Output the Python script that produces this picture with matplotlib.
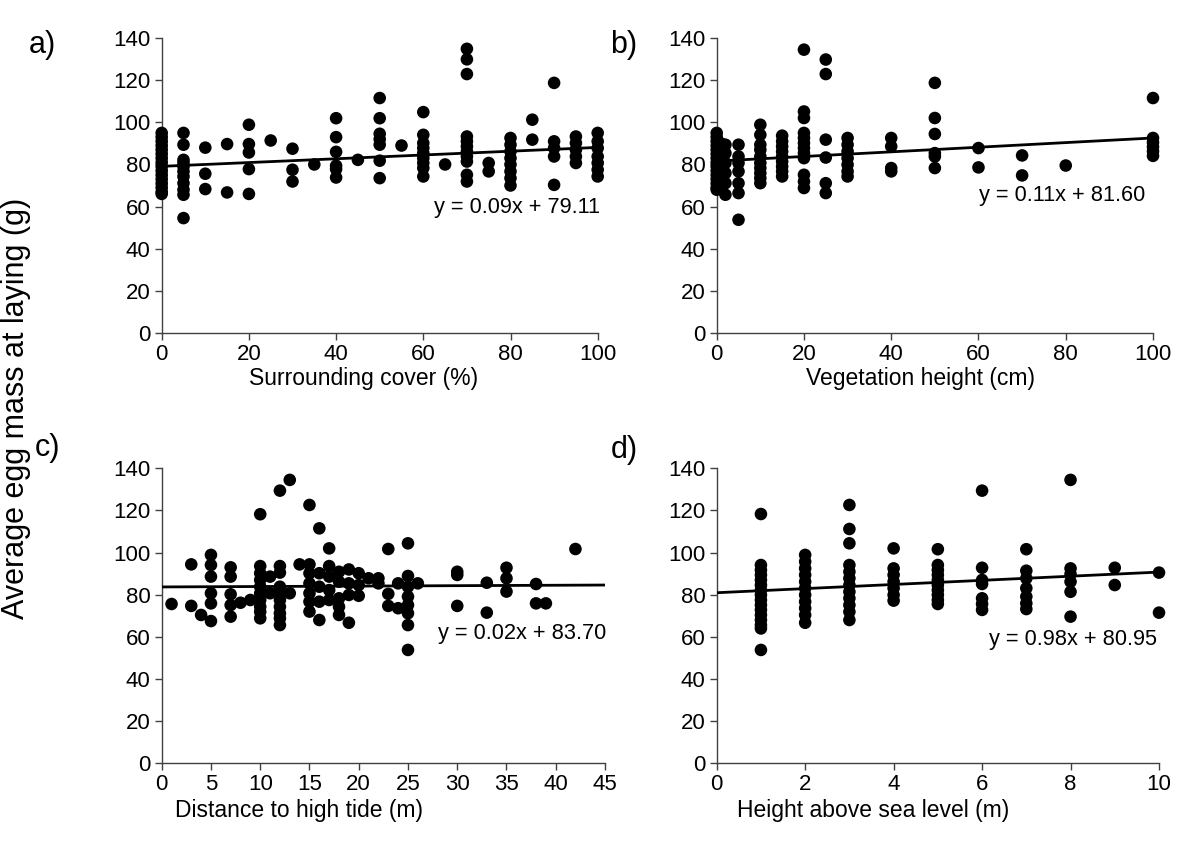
import matplotlib
matplotlib.use("Agg")
import matplotlib.pyplot as plt
import numpy as np

plt.rcParams['font.family'] = ['Liberation Sans', 'DejaVu Sans']

W, H = 1185, 849

# ---------------- data ----------------
cover_levels = [0, 5, 10, 15, 20, 25, 30, 35, 40, 45, 50, 55, 60, 65, 70, 75, 80, 85, 90, 95, 100]
cover_masses = [
    [95, 93, 91, 89, 87, 85, 83, 81, 79, 77, 75, 73, 71, 69, 67, 66],
    [95, 89.4, 82.2, 80.7, 79, 76.7, 74.3, 71.1, 68, 65.6, 54.5],
    [88, 75.6, 68.3],
    [89.7, 66.7],
    [98.9, 89.7, 85.7, 77.8, 66],
    [91.4],
    [87.5, 77.5, 71.9],
    [80],
    [102, 93, 86, 79.4, 77.8, 73.8],
    [82.2],
    [111.6, 102, 94.6, 92, 89.4, 81.8, 73.5],
    [89],
    [104.9, 94.1, 90.2, 87.8, 85.4, 83, 80.7, 78.3, 74.3],
    [80],
    [135, 130, 123, 93.3, 91, 88.6, 86.2, 83.8, 81.4, 75.1, 71.9],
    [80.7, 76.7],
    [92.6, 89.4, 86.2, 83, 80, 76.7, 73.5, 70],
    [101.3, 91.8],
    [118.8, 91, 87.8, 83.8, 70.3],
    [93.3, 90.2, 87, 83.8, 80.7],
    [95, 91, 87.8, 83.8, 80.7, 77.5, 74.3],
]

veg_levels = [0, 1, 2, 5, 10, 15, 20, 25, 30, 40, 50, 60, 70, 80, 100]
veg_masses = [
    [95, 93, 91, 89, 87, 85, 83, 81, 79, 77, 75, 73, 71, 69, 68],
    [90, 82, 76, 70],
    [89.4, 85.4, 80.7, 75.9, 71.1, 65.6],
    [89.4, 83.8, 80.7, 76.7, 71.1, 66.4, 53.7],
    [98.9, 94.1, 89.4, 87, 83.8, 80.7, 78.3, 75.9, 73.5, 71.1],
    [93.7, 91, 88.6, 86.2, 83.8, 81.4, 79, 76.7, 74.3],
    [134.6, 105.2, 102.1, 95, 92.6, 90.2, 87.8, 85.4, 83, 75.1, 71.9, 68.8],
    [129.9, 123, 91.8, 83.3, 71.1, 66.4],
    [92.6, 89.4, 86.2, 83, 79.9, 76.7, 74.3],
    [92.6, 88.6, 78.3, 76.7],
    [118.8, 102.1, 94.5, 85.4, 83.8, 78.3],
    [87.8, 78.6],
    [84.3, 74.8],
    [79.5],
    [111.6, 92.6, 90.5, 88.4, 86.3, 84.1],
]

tide_levels = [1, 3, 4, 5, 7, 8, 9, 10, 11, 12, 13, 14, 15, 16, 17, 18, 19, 20,
               21, 22, 23, 24, 25, 26, 30, 33, 35, 38, 39, 42]
tide_masses = [
    [75.6],
    [94.4, 74.7],
    [70.4],
    [98.9, 94.1, 88.6, 80.7, 75.9, 67.5],
    [93, 88.6, 80.2, 75.1, 69.6],
    [76.2],
    [77.5],
    [118.2, 93.6, 90.2, 87, 83.8, 80.7, 77.5, 74.3, 71.9, 68.8],
    [88.6, 80.7],
    [129.4, 93.6, 90.5, 83.8, 80.7, 77.5, 74.3, 71.2, 68.8, 65.6],
    [134.5, 80.7],
    [94.4],
    [122.6, 94.4, 90.2, 85.4, 80.7, 76.7, 72],
    [111.5, 90.2, 83.8, 76.7, 68],
    [102, 93.6, 88.6, 82.2, 77.5],
    [90.9, 86.2, 78.3, 74.3, 70.4],
    [92, 85.4, 79.9, 66.7],
    [90.2, 84.6, 79.5],
    [87.8],
    [87.8, 85.4],
    [101.7, 80.4, 74.7],
    [85.4, 73.6],
    [104.4, 88.9, 83.8, 79.1, 75.1, 71.2, 65.6, 53.8],
    [85.4],
    [90.9, 89.4, 74.7],
    [85.7, 71.5],
    [92.8, 87.8, 81.5],
    [85.1, 75.9],
    [75.9],
    [101.7],
]

sea_levels = [1, 2, 3, 4, 5, 6, 7, 8, 9, 10]
sea_masses = [
    [118.3, 94.1, 91.7, 89.4, 87, 84.6, 82.2, 79.9, 77.5, 75.1, 72.8, 70.4, 68, 65.6, 64, 53.8],
    [98.9, 95.7, 92.5, 89.4, 86.2, 83.1, 79.9, 76.7, 73.6, 70.4, 66.7],
    [122.6, 111.2, 104.4, 94.1, 90.9, 87.8, 84.6, 81.4, 78.3, 75.1, 71.9, 68],
    [102, 92.5, 89.4, 86.2, 83.1, 79.9, 77.2],
    [101.6, 94.1, 91.7, 89.4, 87, 84.6, 82.2, 79.9, 77.5, 75.6],
    [129.4, 92.8, 87, 85.1, 78.3, 75.6, 72.8],
    [101.6, 91.4, 87.8, 83.1, 79.1, 75.9, 73.2],
    [134.5, 92.5, 89.8, 86.2, 81.4, 69.6],
    [92.8, 84.6],
    [90.5, 71.5],
]

slopes = [0.09, 0.11, 0.02, 0.98]
intercepts = [79.11, 81.60, 83.70, 80.95]
equations = ["y = 0.09x + 79.11", "y = 0.11x + 81.60", "y = 0.02x + 83.70", "y = 0.98x + 80.95"]
panel_letters = ["a)", "b)", "c)", "d)"]
x_titles = ["Surrounding cover (%)", "Vegetation height (cm)",
            "Distance to high tide (m)", "Height above sea level (m)"]
x_limits = [(0, 100), (0, 100), (0, 45), (0, 10)]
x_steps = [20, 20, 5, 2]
y_ticks = [0, 20, 40, 60, 80, 100, 120, 140]
y_title = "Average egg mass at laying (g)"

# ---------------- layout (pixels) ----------------
# left, right, top, bottom
boxes = [(161.7, 597.7, 38.3, 332.7),
         (716.7, 1153.0, 38.3, 332.7),
         (161.7, 605.0, 468.3, 763.3),
         (716.7, 1159.0, 468.3, 763.3)]
letter_pos = [(42, 45), (624, 45), (48, 448), (624, 450)]
xtitle_pos = [(364, 378), (921, 378), (299, 811), (873, 811)]
eq_pos = [(600, 208), (1145, 195), (606, 634), (1157, 640)]

fig = plt.figure(figsize=(W / 100, H / 100), dpi=100)

groups = [(cover_levels, cover_masses), (veg_levels, veg_masses),
          (tide_levels, tide_masses), (sea_levels, sea_masses)]

TICK_FS = 16
for i in range(4):
    l, r, t, b = boxes[i]
    ax = fig.add_axes([l / W, 1 - b / H, (r - l) / W, (b - t) / H])
    levels, masses = groups[i]
    xs = np.concatenate([[lv] * len(m) for lv, m in zip(levels, masses)])
    ys = np.concatenate([np.asarray(m, dtype=float) for m in masses])
    ax.scatter(xs, ys, s=82, color='black', edgecolors='none', zorder=3, clip_on=False)
    x0, x1 = x_limits[i]
    xl = np.array([x0, x1])
    ax.plot(xl, slopes[i] * xl + intercepts[i], color='black', lw=2.0, zorder=4,
            solid_capstyle='butt')
    ax.set_xlim(x0, x1)
    ax.set_ylim(0, 140)
    ax.set_xticks(np.arange(x0, x1 + 0.001, x_steps[i]))
    ax.set_yticks(y_ticks)
    for s in ['top', 'right']:
        ax.spines[s].set_visible(False)
    for s in ['left', 'bottom']:
        ax.spines[s].set_color('#404040')
        ax.spines[s].set_linewidth(1.0)
    ax.tick_params(axis='both', direction='out', length=5, width=1.0, color='#404040',
                   labelsize=TICK_FS, labelcolor='black', pad=3)
    ax.patch.set_alpha(0)

    fig.text(letter_pos[i][0] / W, 1 - letter_pos[i][1] / H, panel_letters[i],
             fontsize=22, ha='center', va='center')
    fig.text(xtitle_pos[i][0] / W, 1 - xtitle_pos[i][1] / H, x_titles[i],
             fontsize=16.5, ha='center', va='center')
    fig.text(eq_pos[i][0] / W, 1 - eq_pos[i][1] / H, equations[i],
             fontsize=15.7, ha='right', va='center')

fig.text(16 / W, 1 - 408 / H, y_title, fontsize=22, rotation=90, ha='center', va='center')

fig.savefig("out.png", dpi=100)
